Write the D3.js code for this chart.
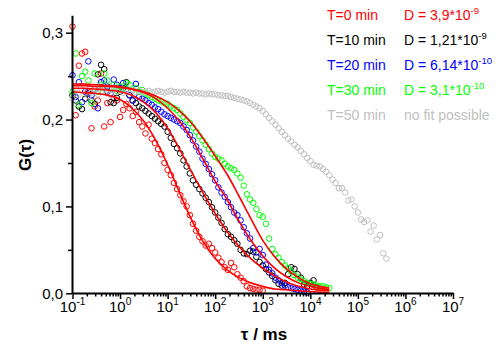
<!DOCTYPE html>
<html><head><meta charset="utf-8">
<script src="https://cdn.jsdelivr.net/npm/d3@7"></script>
<style>body{margin:0;background:#fff}svg{display:block}text{font-family:"Liberation Sans",Arial,sans-serif}</style>
</head><body>
<svg id="c" width="498" height="345"></svg>
<script>
// lag times (ms), shared by all series
const tau = [0.1,0.1166,0.1359,0.1585,0.1848,0.2154,0.2512,0.2929,0.3415,0.3981,0.4642,0.5412,0.631,0.7356,0.8577,
1,1.166,1.359,1.585,1.848,2.154,2.512,2.929,3.415,3.981,4.642,5.412,6.31,7.356,8.577,
10,11.66,13.59,15.85,18.48,21.54,25.12,29.29,34.15,39.81,46.42,54.12,63.1,73.56,85.77,
100,116.6,135.9,158.5,184.8,215.4,251.2,292.9,341.5,398.1,464.2,541.2,631,735.6,857.7,
1000,1166,1359,1585,1848,2154,2512,2929,3415,3981,4642,5412,6310,7356,8577,
10000,11660,13590,15850,18480,21540,25120,29290,34150,39810,46420,54120,63100,73560,85770,
100000,116600,135900,158500,184800,215400,251200,292900,341500,398100];

const gT0 = [0.307,0.205,0.262,0.276,0.278,0.232,0.190,0.215,0.222,0.253,0.192,0.219,0.197,0.225,0.222,
0.203,0.211,0.218,0.213,0.204,0.209,0.197,0.192,0.184,0.194,0.178,0.173,0.166,0.160,0.150,
0.142,0.136,0.127,0.120,0.113,0.106,0.100,0.090,0.080,0.072,0.065,0.060,0.055,0.057,0.052,
0.047,0.041,0.036,0.030,0.027,0.035,0.030,0.022,0.018,0.014,0.008,0.006,0.005,0.004,0.004,0.003];

const gT10 = [0.228,0.222,0.215,0.212,0.224,0.230,0.222,0.218,0.252,0.263,0.258,0.232,0.220,0.219,0.225,
0.232,0.236,0.243,0.228,0.222,0.219,0.215,0.213,0.210,0.207,0.204,0.201,0.198,0.195,0.192,
0.186,0.179,0.172,0.167,0.161,0.153,0.146,0.138,0.130,0.125,0.120,0.115,0.110,0.105,0.099,
0.093,0.087,0.081,0.074,0.068,0.065,0.061,0.057,0.050,0.046,0.045,0.049,0.048,0.042,0.036,
0.032,0.028,0.024,0.020,0.015,0.011,0.009,0.012,0.022,0.030,0.028,0.022,0.018,0.010,0.008,
0.012,0.015,0.007];

const gT20 = [0.251,0.226,0.243,0.220,0.232,0.267,0.228,0.235,0.213,0.243,0.245,0.238,0.230,0.246,0.240,
0.236,0.242,0.235,0.228,0.222,0.241,0.226,0.224,0.222,0.219,0.217,0.214,0.212,0.209,0.206,
0.204,0.202,0.200,0.198,0.196,0.192,0.188,0.182,0.176,0.169,0.163,0.155,0.149,0.143,0.137,
0.130,0.122,0.116,0.111,0.105,0.099,0.093,0.090,0.084,0.076,0.069,0.063,0.052,0.047,0.051,
0.044,0.033,0.027,0.023,0.018,0.015,0.012,0.009,0.007,0.006,0.005,0.004,0.003,0.002,0.001];

const gT30 = [0.232,0.276,0.217,0.250,0.255,0.245,0.219,0.253,0.232,0.240,0.253,0.245,0.236,0.240,0.233,
0.238,0.235,0.242,0.240,0.234,0.236,0.232,0.234,0.230,0.228,0.226,0.224,0.222,0.221,0.219,
0.218,0.215,0.213,0.211,0.207,0.203,0.199,0.196,0.191,0.186,0.181,0.176,0.171,0.166,0.161,
0.157,0.155,0.153,0.149,0.146,0.144,0.142,0.138,0.133,0.124,0.114,0.108,0.104,0.097,0.090,
0.088,0.080,0.063,0.051,0.045,0.041,0.036,0.032,0.029,0.025,0.021,0.018,0.016,0.014,0.012,
0.011,0.010,0.009,0.008,0.008,0.007,0.006];

const gT50 = [0.224,0.236,0.229,0.233,0.238,0.227,0.231,0.235,0.229,0.233,0.236,0.230,0.228,0.234,0.232,
0.235,0.231,0.233,0.230,0.234,0.232,0.233,0.231,0.232,0.233,0.231,0.232,0.233,0.232,0.231,
0.232,0.233,0.232,0.232,0.231,0.232,0.231,0.231,0.230,0.231,0.230,0.230,0.229,0.230,0.229,
0.229,0.228,0.228,0.227,0.227,0.226,0.225,0.224,0.223,0.222,0.221,0.219,0.217,0.215,0.213,
0.210,0.206,0.202,0.198,0.194,0.190,0.186,0.182,0.178,0.175,0.171,0.168,0.164,0.160,0.156,
0.152,0.148,0.147,0.146,0.143,0.140,0.136,0.131,0.127,0.121,0.121,0.116,0.107,0.108,0.100,
0.093,0.085,0.082,0.084,0.071,0.078,0.062,0.067,0.046,0.040];

// fitted curves
const fitTau = [0.1,0.1778,0.3162,0.5623,1,1.778,3.162,5.623,10,17.78,31.62,56.23,100,177.8,316.2,562.3,1000,1778,3162,5623,10000,25120];
const fitT0  = [0.232,0.231,0.230,0.228,0.223,0.213,0.198,0.176,0.148,0.116,0.085,0.059,0.040,0.027,0.018,0.012,0.008,0.005,0.004,0.003,0.002,0.001];
const fitT10 = [0.236,0.236,0.235,0.234,0.232,0.228,0.220,0.208,0.190,0.166,0.140,0.115,0.092,0.071,0.054,0.040,0.029,0.020,0.013,0.008,0.005,0.003];
const fitT20 = [0.241,0.241,0.240,0.239,0.238,0.235,0.231,0.224,0.213,0.198,0.178,0.154,0.129,0.108,0.083,0.061,0.043,0.029,0.019,0.012,0.008,0.004];
const fitT30 = [0.239,0.239,0.238,0.238,0.237,0.235,0.232,0.227,0.220,0.210,0.196,0.178,0.158,0.137,0.112,0.086,0.061,0.042,0.028,0.018,0.011,0.006];

const xTicks = [1e-1,1e0,1e1,1e2,1e3,1e4,1e5,1e6,1e7];
const xTickExp = ["-1","0","1","2","3","4","5","6","7"];
const yTicks = [0,0.1,0.2,0.3];
const yTickLabels = ["0,0","0,1","0,2","0,3"];
const yMinor = [0.05,0.15,0.25];
const legendT = ["T=0 min","T=10 min","T=20 min","T=30 min","T=50 min"];
const legendD = ["D = 3,9*10","D = 1,21*10","D = 6,14*10","D = 3,1*10","no fit possible"];
const legendExp = ["-9","-9","-10","-10",""];
const colors = ["#ff0000","#000000","#0000ff","#00ff00","#c0c0c0"];
const fitColor = "#ff0000";

const svg = d3.select("#c");
const x = d3.scaleLog().domain([1e-1,1e7]).range([72.5,453]);
const y = d3.scaleLinear().domain([0,0.32]).range([293.3,15.3]);

// data series
const series = [gT0,gT10,gT20,gT30,gT50];
const drawOrder = [0,1,2,3,4];
drawOrder.forEach(i=>{
  const vals = series[i];
  svg.append("g").selectAll("circle").data(vals).join("circle")
    .attr("cx",(d,k)=>x(tau[k])).attr("cy",d=>y(d)).attr("r",2.8)
    .attr("fill","none").attr("stroke",colors[i]).attr("stroke-width",1);
});

// fits
const line = d3.line().x((d,k)=>x(fitTau[k])).y(d=>y(d)).curveMonotoneX;
[fitT0,fitT10,fitT20,fitT30].forEach(f=>{
  svg.append("path").attr("d",d3.line().x((d,k)=>x(fitTau[k])).y(d=>y(d)).curve(d3.curveMonotoneX)(f))
    .attr("fill","none").attr("stroke",fitColor).attr("stroke-width",1.6);
});

// axes
const yAxis = svg.append("g").attr("transform","translate(72,0)")
  .call(d3.axisLeft(y).tickValues(yTicks).tickFormat((d,i)=>yTickLabels[i]).tickSize(6).tickSizeOuter(0).tickPadding(3));
svg.append("g").attr("transform","translate(72,0)")
  .call(d3.axisLeft(y).tickValues(yMinor).tickFormat("").tickSize(4).tickSizeOuter(0))
  .select(".domain").remove();
yAxis.selectAll("text").attr("font-size",15).attr("font-family","Liberation Sans, Arial, sans-serif").attr("fill","#000");

const minorX = [];
xTicks.slice(0,-1).forEach(t=>{ [2,3,4,5,6,7,8,9].forEach(m=>minorX.push(t*m)); });
const xAxis = svg.append("g").attr("transform","translate(0,293)")
  .call(d3.axisBottom(x).tickValues(xTicks).tickFormat("").tickSize(6).tickSizeOuter(0));
svg.append("g").attr("transform","translate(0,293)")
  .call(d3.axisBottom(x).tickValues(minorX).tickFormat("").tickSize(3.5).tickSizeOuter(0))
  .select(".domain").remove();
svg.selectAll(".domain").attr("stroke-width",2).attr("stroke","#000");
svg.selectAll(".tick line").attr("stroke-width",1.5).attr("stroke","#000");

xTicks.forEach((t,i)=>{
  const tx = svg.append("text").attr("x",x(t)).attr("y",312).attr("text-anchor","middle")
    .attr("font-size",15).attr("fill","#000");
  tx.append("tspan").text("10");
  tx.append("tspan").attr("dy",-7).attr("font-size",10).text(xTickExp[i]);
});

// axis titles
svg.append("text").attr("x",264).attr("y",340).attr("text-anchor","middle")
  .attr("font-size",17).attr("font-weight","bold").text("τ / ms");
svg.append("text").attr("transform","translate(31,155) rotate(-90)").attr("text-anchor","middle")
  .attr("font-size",17).attr("font-weight","bold").text("G(τ)");

// legend
legendT.forEach((s,i)=>{
  const yy = 20 + i*25;
  svg.append("text").attr("x",327).attr("y",yy).attr("font-size",14).attr("fill",colors[i]).text(s);
  const t = svg.append("text").attr("x",404).attr("y",yy).attr("font-size",14).attr("fill",colors[i]);
  t.append("tspan").text(legendD[i]);
  if(legendExp[i]) t.append("tspan").attr("dy",-6).attr("font-size",9.5).text(legendExp[i]);
});
</script>
</body></html>
